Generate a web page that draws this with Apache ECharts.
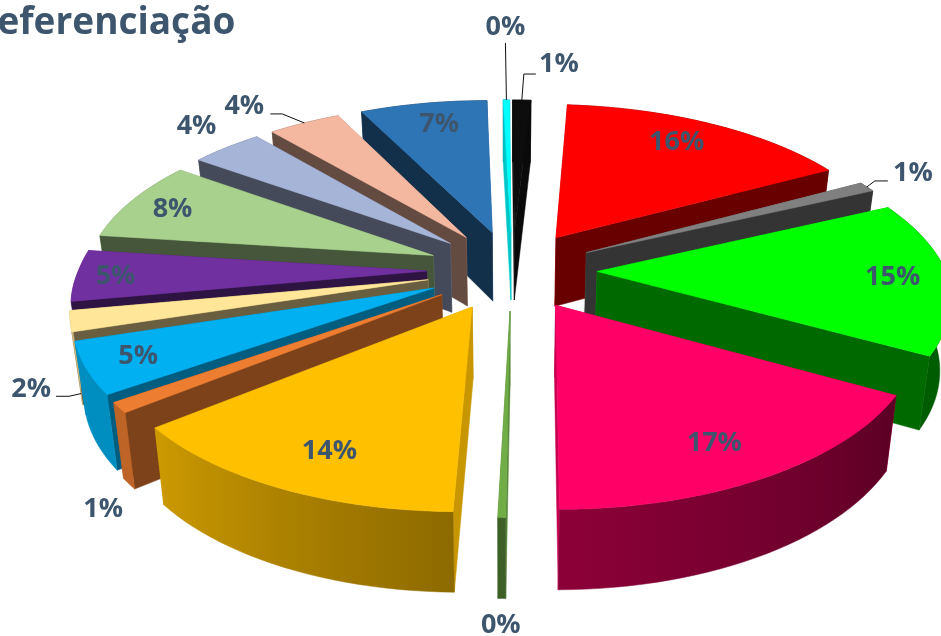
<!DOCTYPE html>
<html><head><meta charset="utf-8">
<style>html,body{margin:0;padding:0;background:#fff}#c{width:941px;height:636px}</style>
<script src="https://cdn.jsdelivr.net/npm/echarts@6/dist/echarts.min.js"></script>
</head><body><div id="c"></div>
<script>
// Data (share of the whole, clockwise)
const titleText = 'Referenciação';
const sliceValues = [16, 1, 15, 17, 0.3, 14, 1, 5, 2, 5, 8, 4, 4, 7, 0.35, 1];
const sliceColors = ['#FF0000','#808080','#00FF00','#FF0066','#70AD47','#FFC000','#ED7D31','#00B0F0',
                     '#FFE699','#7030A0','#A9D18E','#A6B4D8','#F4B8A0','#2E75B6','#00FFFF','#0D0D0D'];
// Label offset from the middle of the slice's outer arc, px
const labelOffsets = [[-34,19],[46,-14],[-55,0],[-54,-33],[-1,108],[51,-37],[-16,102],[52,-12],
                      [-39,68],[39,1],[40,9],[-30,-21],[-60,-17],[16,21],[-1,-73],[37,-36]];
// Leader polyline, relative to the label centre (null = no leader)
const leaderElbows = [null,[[-38,8],[-25,8]],null,null,null,null,null,null,
                      [[38,7],[25,7]],null,null,null,[[38,8],[26,8]],null,[[0,16]],[[-35,10],[-23,10]]];
const leaderFromWallFoot = [8];

// Projection of the tilted pie
const view = {cx:512, cy:270, A:348, B:162, k:0.149, depth:70, lean:0.025, rot:4.5, explode:0.245, skew:6};
function project(X, Y, h) {
  const w = 1 + view.k * Y;
  return [view.cx + view.A * X / w * (1 - view.lean * h) - view.skew * Math.abs(Y),
          view.cy - view.B * Y / w + view.depth * h / Math.pow(w, 0.7)];
}
const rad = d => d * Math.PI / 180;
const total = sliceValues.reduce((a, b) => a + b, 0);
let acc = 0;
const slices = sliceValues.map((v, i) => {
  const a0 = view.rot + acc / total * 360; acc += v;
  const a1 = view.rot + acc / total * 360;
  const b = (a0 + a1) / 2;
  return {i, v, a0, a1, b, ox: view.explode * Math.sin(rad(b)), oy: view.explode * Math.cos(rad(b)),
          color: sliceColors[i], text: Math.round(v / total * 100) + '%'};
});
function shade(hex, f) {
  const n = parseInt(hex.slice(1), 16);
  const c = s => Math.round(((n >> s) & 255) * f);
  return `rgb(${c(16)},${c(8)},${c(0)})`;
}
const knots = [[0,.4],[60,.36],[120,.36],[180,.55],[230,.8],[270,.8],[320,.5],[360,.4]];
function wallLight(t) {
  t = ((t % 360) + 360) % 360;
  for (let i = 1; i < knots.length; i++) if (t <= knots[i][0]) {
    const [a, p] = knots[i - 1], [c, q] = knots[i];
    return p + (q - p) * (t - a) / (c - a);
  }
  return .4;
}
function capLight(t, dir) {
  const ny = Math.cos(rad(t + dir * 90));
  if (ny >= -0.2) return 0.78;
  return (t > 215 && t < 250) ? 0.53 : 0.41;
}
function arcPoint(s, t) { return [s.ox + Math.sin(rad(t)), s.oy + Math.cos(rad(t))]; }
function poly(points, fill, z2) {
  return {type:'polygon', z2, shape:{points}, style:{fill, stroke:fill, lineWidth:0.5}};
}
function buildSlice(s, order) {
  const N = Math.max(4, Math.ceil((s.a1 - s.a0) / 2));
  const world = [];
  for (let n = 0; n <= N; n++) world.push(arcPoint(s, s.a0 + (s.a1 - s.a0) * n / N));
  const top = world.map(p => project(p[0], p[1], 0));
  const bot = world.map(p => project(p[0], p[1], 1));
  const walls = [];
  const xs = top.concat(bot).map(p => p[0]);
  const x0 = Math.min(...xs), x1 = Math.max(...xs);
  const stops = top.map((p, n) => ({
    offset: x1 > x0 ? (p[0] - x0) / (x1 - x0) : 0,
    color: shade(s.color, wallLight(s.a0 + (s.a1 - s.a0) * n / N))
  })).sort((a, b) => a.offset - b.offset);
  const my = world.reduce((a, p) => a + p[1], 0) / world.length;
  walls.push({y: my, el: poly(top.concat(bot.slice().reverse()),
    {type:'linear', x:0, y:0, x2:1, y2:0, colorStops:stops}, 1)});
  [[s.a0, -1],[s.a1, 1]].forEach(([t, dir]) => {
    const p = arcPoint(s, t);
    const pts = [project(s.ox, s.oy, 0), project(p[0], p[1], 0), project(p[0], p[1], 1), project(s.ox, s.oy, 1)];
    walls.push({y: (s.oy + p[1]) / 2, el: poly(pts, shade(s.color, capLight(t, dir)), 1)});
  });
  walls.sort((a, b) => b.y - a.y);
  const base = (order + 1) * 10;
  const children = walls.map((w, n) => { w.el.z2 = base + n; return w.el; });
  children.push(poly([project(s.ox, s.oy, 0)].concat(top), s.color, base + 5));
  return {type:'group', children};
}
const paintOrder = slices.slice().sort((a, b) => Math.cos(rad(b.b)) - Math.cos(rad(a.b)));
const labelStyle = {fontFamily:'Open Sans', fontWeight:'bold', fontSize:27, fill:'#3d566e', textAlign:'center', textVerticalAlign:'middle'};

const chart = echarts.init(document.getElementById('c'), null, {renderer:'canvas'});
chart.setOption({
  animation:false, backgroundColor:'#fff',
  title:{text:titleText, left:-32, top:0, textStyle:{fontFamily:'Open Sans', fontWeight:'bold', fontSize:37, color:'#3d566e'}},
  series:[
    {type:'custom', coordinateSystem:'none', silent:true, z:2,
     data:paintOrder.map((s, o) => [s.i, o]),
     renderItem:(p, api) => buildSlice(slices[api.value(0)], api.value(1))},
    {type:'custom', coordinateSystem:'none', silent:true, z:3,
     data:slices.map(s => [s.i]),
     renderItem:(p, api) => {
       const s = slices[api.value(0)];
       const m = arcPoint(s, s.b);
       const a = project(m[0], m[1], 0);
       const off = labelOffsets[s.i];
       const c = [a[0] + off[0], a[1] + off[1]];
       const children = [{type:'text', z2:300, style:Object.assign({text:s.text, x:c[0], y:c[1]}, labelStyle)}];
       const lead = leaderElbows[s.i];
       if (lead) {
         const start = leaderFromWallFoot.includes(s.i) ? project(m[0], m[1], 1) : a;
         const pts = [start].concat(lead.map(q => [c[0] + q[0], c[1] + q[1]]));
         children.push({type:'polyline', z2:290, shape:{points:pts}, style:{stroke:'#111', lineWidth:1, fill:null}});
       }
       return {type:'group', children};
     }}
  ]
});
</script></body></html>
